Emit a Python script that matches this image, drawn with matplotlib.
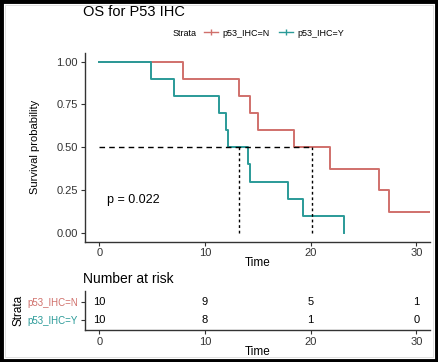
import matplotlib.pyplot as plt
from matplotlib.lines import Line2D
from matplotlib.patches import Rectangle

plt.rcParams['font.family'] = ['Liberation Sans', 'DejaVu Sans']

# Kaplan-Meier steps
time_n = [0, 7.9, 13.2, 14.3, 15.0, 18.4, 21.8, 26.5, 27.4, 31.3]
surv_n = [1.0, 0.9, 0.8, 0.7, 0.6, 0.5, 0.375, 0.25, 0.125, 0.125]
time_y = [0, 4.9, 7.1, 11.35, 12.0, 12.2, 14.1, 14.25, 17.9, 19.3, 23.2]
surv_y = [1.0, 0.9, 0.8, 0.7, 0.6, 0.5, 0.4, 0.3, 0.2, 0.1, 0.0]

median_n = 20.15
median_y = 13.2
p_text = "p = 0.022"

strata = ["p53_IHC=N", "p53_IHC=Y"]
risk_times = [0, 10, 20, 30]
risk_n = [10, 9, 5, 1]
risk_y = [10, 8, 1, 0]

red = '#D0706B'
teal = '#2A9A98'

fig = plt.figure(figsize=(4.38, 3.62), dpi=100)
W, H = 438, 362

ax = fig.add_axes([85 / W, 1 - 241.5 / H, 345 / W, 188.5 / H])
ax.step(time_n, surv_n, where='post', color=red, lw=1.4)
ax.step(time_y, surv_y, where='post', color=teal, lw=1.4)

# median lines
ax.plot([0, median_n], [0.5, 0.5], color='black', lw=1, ls=(0, (4, 3)))
ax.plot([median_y, median_y], [0, 0.5], color='black', lw=1, ls=(0, (2, 2)))
ax.plot([median_n, median_n], [0, 0.5], color='black', lw=1, ls=(0, (2, 2)))

ax.text(0.7, 0.19, p_text, fontsize=9, va='center', ha='left')

ax.set_xlim(-1.35, 31.3)
ax.set_ylim(-0.05, 1.05)
ax.set_xticks([0, 10, 20, 30])
ax.set_yticks([0, 0.25, 0.5, 0.75, 1.0])
ax.set_yticklabels(['0.00', '0.25', '0.50', '0.75', '1.00'])
ax.set_xlabel('Time', fontsize=8.5, labelpad=-1)
ax.set_ylabel('Survival probability', fontsize=8, labelpad=12)
ax.tick_params(labelsize=8, length=3, width=0.8, pad=2, colors='#333333')
for s in ['top', 'right']:
    ax.spines[s].set_visible(False)
for s in ['left', 'bottom']:
    ax.spines[s].set_color('#333333')
    ax.spines[s].set_linewidth(1)

fig.text(83 / W, 1 - 12 / H, 'OS for P53 IHC', fontsize=10.5, va='center', ha='left')

handles = [Line2D([0], [0], color=red, lw=1, marker='|', markersize=5),
           Line2D([0], [0], color=teal, lw=1, marker='|', markersize=5)]
fig.text(173 / W, 1 - 33 / H, 'Strata', fontsize=6.5, va='center', ha='left')
fig.legend(handles, strata, loc='center left', bbox_to_anchor=(199 / W, 1 - 33 / H),
           ncol=2, frameon=False, fontsize=6.5, handlelength=1.6, handletextpad=0.5,
           columnspacing=1.0, borderpad=0)

# risk table
axr = fig.add_axes([85 / W, 1 - 330 / H, 345 / W, 39.3 / H])
for t, a, b in zip(risk_times, risk_n, risk_y):
    axr.text(t, 2, str(a), ha='center', va='center', fontsize=8)
    axr.text(t, 1, str(b), ha='center', va='center', fontsize=8)
axr.set_xlim(-1.35, 31.3)
axr.set_ylim(0.45, 2.6)
axr.set_xticks([0, 10, 20, 30])
axr.set_yticks([2, 1])
axr.set_yticklabels(strata)
axr.set_xlabel('Time', fontsize=8.5, labelpad=-1)
axr.set_ylabel('Strata', fontsize=8.5, labelpad=2)
axr.tick_params(axis='x', labelsize=8, length=3, width=0.8, pad=2, colors='#333333')
axr.tick_params(axis='y', labelsize=7, length=3, width=0.8, pad=2, colors='#333333')
for lab, c in zip(axr.get_yticklabels(), [red, teal]):
    lab.set_color(c)
for s in ['top', 'right']:
    axr.spines[s].set_visible(False)
for s in ['left', 'bottom']:
    axr.spines[s].set_color('#333333')
    axr.spines[s].set_linewidth(1)
fig.text(83 / W, 1 - 279 / H, 'Number at risk', fontsize=10, va='center', ha='left')

# frame around the picture
fig.patches.append(Rectangle((0.003, 0.004), 0.994, 0.992, transform=fig.transFigure,
                             fill=False, edgecolor='black', lw=3.5))
fig.patches.append(Rectangle((0.012, 0.014), 0.976, 0.972, transform=fig.transFigure,
                             fill=False, edgecolor='#dddddd', lw=0.6))

fig.savefig('out.png', dpi=100)
